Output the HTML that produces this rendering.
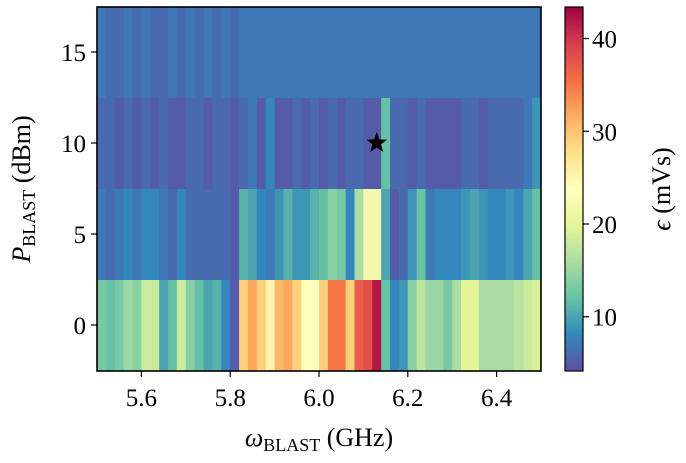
<!DOCTYPE html>
<html><head><meta charset="utf-8"><style>
body{margin:0;background:#fff;}
svg text{font-family:"Liberation Serif",serif;fill:#000;}
</style></head><body>
<svg id="chart" width="686" height="458" xmlns="http://www.w3.org/2000/svg">
<defs><linearGradient id="cb" x1="0" y1="1" x2="0" y2="0"></linearGradient></defs>
<g id="cells"></g>
<rect x="97" y="7" width="444" height="364" fill="none" stroke="#000" stroke-width="1.6"/>
<g id="axes"></g>
<text x="319" y="446" font-size="26" text-anchor="middle"><tspan font-style="italic">ω</tspan><tspan font-size="18" dy="5">BLAST</tspan><tspan dy="-5"> (GHz)</tspan></text>
<text transform="translate(30,189) rotate(-90)" font-size="26" text-anchor="middle"><tspan font-style="italic">P</tspan><tspan font-size="18" dy="5">BLAST</tspan><tspan dy="-5"> (dBm)</tspan></text>
<rect x="565" y="7" width="18" height="364" fill="url(#cb)" stroke="#000" stroke-width="1.2"/>
<text transform="translate(670,189) rotate(-90)" font-size="26" text-anchor="middle"><tspan font-style="italic">ϵ</tspan> (mVs)</text>
</svg>
<script>
const rowsP=[0,5,10,15];
const freqStart=5.5, freqStep=0.02;
const row0=[13,12,13,15,14,18,18,10,12,18,14,12,10,11,8,5,29,32,29,25,31,32,29,24,24,29,35,35,29,37,38,42,12,8,9,14,17,15,15,13,16,20,20,16,16,16,16,17,18,19];
const row5=[7,6,7,8,7,8,8,7,6,8,6,6,6,6,6,5,11,10,8,7,9,11,9,9,11,12,14,13,8,16,22,22,10,5,6,9,12,7,8,8,8,9,10,9,8,8,9,8,10,12];
const row10=[6,6,5,6,5,6,5,6,5,5,6,6,5,6,6,5,6,7,5,8,5,5,6,5,6,5,6,5,6,6,5,5,12,6,6,5,6,5,5,5,5,6,6,5,6,6,6,6,7,9];
const row15=[7,6,6,7,6,7,6,6,7,6,7,6,7,6,7,6,7,7,7,7,7,7,7,7,7,7,7,7,7,7,7,7,7,7,7,7,7,7,7,7,7,7,7,7,7,7,7,7,7,7];
const xTicks=[5.6,5.8,6.0,6.2,6.4];
const yTicks=[0,5,10,15];
const cTicks=[10,20,30,40];
const star={f:6.13,p:10};
const vmin=4.15,vmax=43.4;
const xs=f=>97+(f-5.5)/1.0*444;
const ys=p=>325-(p/5)*91;
const cs=v=>371-(v-vmin)/(vmax-vmin)*364;
const stops=["#5e4fa2","#3288bd","#66c2a5","#abdda4","#e6f598","#ffffbf","#fee08b","#fdae61","#f46d43","#d53e4f","#9e0142"];
function hex(h){return [1,3,5].map(i=>parseInt(h.substr(i,2),16));}
function cmap(v){let t=Math.max(0,Math.min(1,(v-vmin)/(vmax-vmin)))*10;let i=Math.min(9,Math.floor(t)),f=t-i;const a=hex(stops[i]),b=hex(stops[i+1]);return `rgb(${a.map((c,k)=>Math.round(c+(b[k]-c)*f)).join(',')})`;}
const NS="http://www.w3.org/2000/svg";
function mk(tag,attrs,parent){const e=document.createElementNS(NS,tag);for(const k in attrs)e.setAttribute(k,attrs[k]);parent.appendChild(e);return e;}
const cells=document.getElementById('cells');
[row0,row5,row10,row15].forEach((row,ri)=>{
  row.forEach((v,ci)=>{
    const f0=freqStart+ci*freqStep;
    const x0=xs(f0),x1=xs(f0+freqStep);
    const y0=ys(rowsP[ri]+2.5),y1=ys(rowsP[ri]-2.5);
    const r=mk('rect',{x:x0,y:y0,width:x1-x0+0.5,height:y1-y0+0.5,fill:cmap(v)},cells);
    
    
  });
});
const svg=document.getElementById('chart');
const st=mk('path',{},svg);


{const cx=xs(star.f),cy=ys(star.p);let d='';for(let i=0;i<10;i++){const r=i%2?4.5:11;const a=-Math.PI/2+i*Math.PI/5;d+=(i?'L':'M')+(cx+r*Math.cos(a)).toFixed(1)+' '+(cy+r*Math.sin(a)).toFixed(1);}st.setAttribute('d',d+'Z');st.setAttribute('fill','#000');}
const axes=document.getElementById('axes');
xTicks.forEach(t=>{const x=xs(t);
  const l=mk('line',{x1:x,x2:x,y1:371,y2:377,stroke:'#000','stroke-width':1.2},axes);
  
  const tx=mk('text',{x:x,y:406,'font-size':25,'text-anchor':'middle'},axes);tx.textContent=t.toFixed(1);
  });
yTicks.forEach(t=>{const y=ys(t);
  const l=mk('line',{x1:91,x2:97,y1:y,y2:y,stroke:'#000','stroke-width':1.2},axes);
  
  const tx=mk('text',{x:86,y:y+9,'font-size':25,'text-anchor':'end'},axes);tx.textContent=t;
  });
cTicks.forEach(t=>{const y=cs(t);
  const l=mk('line',{x1:583,x2:589,y1:y,y2:y,stroke:'#000','stroke-width':1.2},axes);
  
  const tx=mk('text',{x:592,y:y+9,'font-size':25},axes);tx.textContent=t;
  });
const g=document.getElementById('cb');
stops.forEach((c,i)=>mk('stop',{offset:(i*10)+'%','stop-color':c},g));
</script>
</body></html>
